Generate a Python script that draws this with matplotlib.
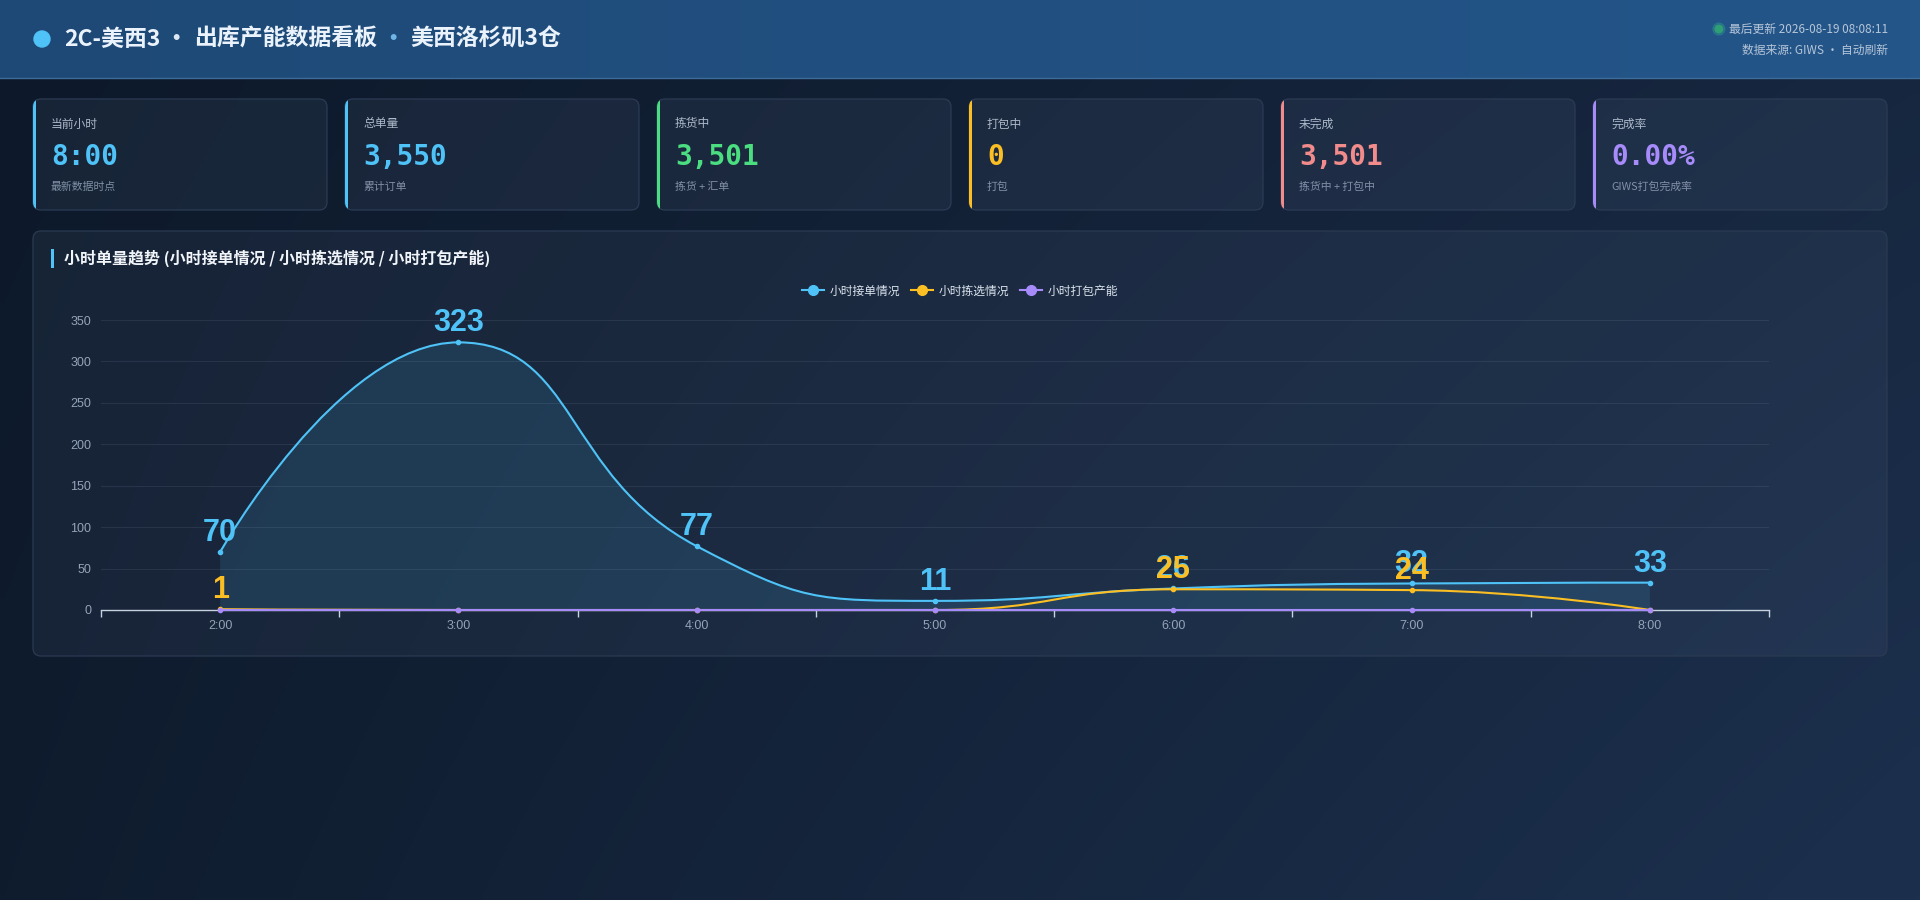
import numpy as np
import matplotlib.pyplot as plt
from matplotlib.patches import FancyBboxPatch, Rectangle, Circle, PathPatch
from matplotlib.path import Path
from matplotlib.lines import Line2D

plt.rcParams['font.family'] = ['Noto Sans CJK SC', 'DejaVu Sans']

# ---- data ----
hours = ['2:00', '3:00', '4:00', '5:00', '6:00', '7:00', '8:00']
orders = [70, 323, 77, 11, 26, 32, 33]     # 小时接单情况
picked = [1, 0, 0, 0, 25, 24, 0]           # 小时拣选情况
packed = [0, 0, 0, 0, 0, 0, 0]             # 小时打包产能
series_names = ['小时接单情况', '小时拣选情况', '小时打包产能']

kpi_titles = ['当前小时', '总单量', '拣货中', '打包中', '未完成', '完成率']
kpi_values = ['8:00', '3,550', '3,501', '0', '3,501', '0.00%']
kpi_notes = ['最新数据时点', '累计订单', '拣货 + 汇单', '打包', '拣货中 + 打包中', 'GIWS打包完成率']

BLUE, YELLOW, PURPLE = '#4fc3f7', '#fbbf24', '#a78bfa'
kpi_colors = [BLUE, BLUE, '#4ade80', YELLOW, '#f28b8b', PURPLE]
series_colors = [BLUE, YELLOW, PURPLE]


def smooth_path(xs, ys, sx, sy, smooth=0.5):
    # echarts-like smoothing, computed in pixel space then mapped back
    pts = np.column_stack([np.asarray(xs, float) * sx, np.asarray(ys, float) * sy])
    n = len(pts)
    cin = pts.copy()
    cout = pts.copy()
    for i in range(1, n - 1):
        p, prev, nxt = pts[i], pts[i - 1], pts[i + 1]
        v = nxt - prev
        lp = np.hypot(*(p - prev))
        ln = np.hypot(*(nxt - p))
        ratio = ln / (ln + lp)
        c1 = p + v * smooth * ratio
        c1 = np.clip(c1, np.minimum(p, nxt), np.maximum(p, nxt))
        c0 = p - (c1 - p) * lp / ln
        c0 = np.clip(c0, np.minimum(prev, p), np.maximum(prev, p))
        c1 = p + (p - c0) * ln / lp
        cin[i] = c0
        cout[i] = c1
    verts = [pts[0]]
    codes = [Path.MOVETO]
    for i in range(n - 1):
        verts += [cout[i], cin[i + 1], pts[i + 1]]
        codes += [Path.CURVE4] * 3
    verts = np.array(verts) / [sx, sy]
    return verts, codes


fig = plt.figure(figsize=(19.2, 9), dpi=100)
bg = fig.add_axes([0, 0, 1, 1])
bg.set_xlim(0, 1920)
bg.set_ylim(900, 0)
bg.axis('off')

# body gradient
gy, gx = np.mgrid[0:1:90j, 0:1:192j]
c_tl = np.array([13, 25, 42]) / 255
c_tr = np.array([22, 38, 62]) / 255
c_bl = np.array([15, 28, 46]) / 255
c_br = np.array([28, 48, 78]) / 255
grad = (c_tl * ((1 - gx) * (1 - gy))[..., None] + c_tr * (gx * (1 - gy))[..., None]
        + c_bl * ((1 - gx) * gy)[..., None] + c_br * (gx * gy)[..., None])
bg.imshow(grad, extent=(0, 1920, 900, 0), aspect='auto', zorder=0, interpolation='bilinear')

# header
hg = np.linspace(0, 1, 192)[None, :, None]
h_l = np.array([30, 73, 118]) / 255
h_r = np.array([36, 86, 138]) / 255
bg.imshow(h_l * (1 - hg) + h_r * hg, extent=(0, 1920, 78, 0), aspect='auto', zorder=1)
bg.plot([0, 1920], [78, 78], color='#3d6c9a', lw=1, zorder=2)
bg.set_xlim(0, 1920)
bg.set_ylim(900, 0)

bg.add_patch(Circle((42, 39), 8, color=BLUE, zorder=3))
renderer = fig.canvas.get_renderer()
title_parts = [('2C-美西3', '#eaf2fb'), (' · ', '#dbe7f3'), ('出库产能数据看板', '#eaf2fb'),
               (' · ', '#6fb6e6'), ('美西洛杉矶3仓', '#eaf2fb')]
tx = 64
for s, c in title_parts:
    t = bg.text(tx, 39, s, fontsize=16.5, weight='bold', color=c, va='center', ha='left', zorder=3)
    tx += t.get_window_extent(renderer).width

t1 = bg.text(1888, 29, '最后更新 2026-08-19 08:08:11', fontsize=8.5, color='#b6c6d8',
             ha='right', va='center', zorder=3)
bg.text(1888, 50, '数据来源: GIWS · 自动刷新', fontsize=8.5, color='#b6c6d8',
        ha='right', va='center', zorder=3)
left_edge = t1.get_window_extent(renderer).x0
bg.add_patch(Circle((left_edge - 10, 29), 6, color='#34d399', alpha=0.18, zorder=3))
bg.add_patch(Circle((left_edge - 10, 29), 3.8, color='#2f9e74', zorder=3))

# KPI cards
for i in range(6):
    x = 33 + i * 312
    card = FancyBboxPatch((x, 99), 294, 111, boxstyle='round,pad=0,rounding_size=8',
                          fc=(0.58, 0.66, 0.80, 0.08), ec='#2b3b53', lw=0.9, zorder=3)
    bg.add_patch(card)
    acc = Rectangle((x - 1, 99), 4, 111, fc=kpi_colors[i], ec='none', zorder=4)
    bg.add_patch(acc)
    acc.set_clip_path(card)
    bg.text(x + 18, 124, kpi_titles[i], fontsize=8.5, color='#aebacb', va='center', zorder=5)
    bg.text(x + 18, 157, kpi_values[i], fontsize=20, weight='bold', family='DejaVu Sans Mono',
            color=kpi_colors[i], va='center', zorder=5)
    bg.text(x + 18, 187, kpi_notes[i], fontsize=7.8, color='#8391a7', va='center', zorder=5)

# chart panel
panel = FancyBboxPatch((33, 231), 1854, 425, boxstyle='round,pad=0,rounding_size=8',
                       fc=(0.58, 0.66, 0.80, 0.07), ec='#2a3a51', lw=0.9, zorder=3)
bg.add_patch(panel)
bg.add_patch(Rectangle((51, 249), 3, 19, fc=BLUE, ec='none', zorder=4))
bg.text(64, 258, '小时单量趋势 (小时接单情况 / 小时拣选情况 / 小时打包产能)', fontsize=11.5,
        weight='bold', color='#f1f5f9', va='center', zorder=5)

# chart axes
ax = fig.add_axes([101 / 1920, 1 - 610 / 900, (1769 - 101) / 1920, 290 / 900])
ax.set_facecolor('none')
ax.set_xlim(-0.5, 6.5)
ax.set_ylim(0, 350)
for side in ['top', 'right', 'left']:
    ax.spines[side].set_visible(False)
ax.spines['bottom'].set_color('#c8d2de')
ax.spines['bottom'].set_linewidth(1)

ax.set_yticks(range(0, 351, 50))
ax.yaxis.grid(True, color='#94a3b8', alpha=0.13, lw=0.8)
ax.set_axisbelow(True)
ax.tick_params(axis='y', length=0, pad=7, labelsize=9, labelcolor='#94a3b8')
ax.set_xticks(range(len(hours)))
ax.set_xticklabels(hours)
ax.set_xticks(np.arange(-0.5, len(hours), 1), minor=True)
ax.tick_params(axis='x', which='major', length=0, pad=7, labelsize=9, labelcolor='#94a3b8')
ax.tick_params(axis='x', which='minor', length=5, width=1, color='#c8d2de', direction='out')
for lab in ax.get_xticklabels() + ax.get_yticklabels():
    lab.set_family('Liberation Sans')

sx = 1668 / 7.0
sy = 290 / 350.0
xs = np.arange(len(hours))
all_series = [orders, picked, packed]

# area under 小时接单情况
v, c = smooth_path(xs, orders, sx, sy)
fill_verts = np.vstack([v, [[xs[-1], 0], [xs[0], 0], [xs[0], 0]]])
fill_codes = c + [Path.LINETO, Path.LINETO, Path.CLOSEPOLY]
ax.add_patch(PathPatch(Path(fill_verts, fill_codes), fc=BLUE, alpha=0.13, ec='none', zorder=1))

for k, (vals, col) in enumerate(zip(all_series, series_colors)):
    v, c = smooth_path(xs, vals, sx, sy)
    ax.add_patch(PathPatch(Path(v, c), fill=False, ec=col, lw=1.5, zorder=2 + k, clip_on=False))
    ax.plot(xs, vals, 'o', ms=3, color=col, zorder=2.5 + k, clip_on=False)

for k, (vals, col) in enumerate(zip(all_series, series_colors)):
    for i, val in enumerate(vals):
        if val > 0:
            ax.annotate(str(val), (xs[i], val), xytext=(0, 8), textcoords='offset points',
                        ha='center', va='baseline', fontsize=22, weight='bold', color=col,
                        family='Liberation Sans', zorder=6 + k, annotation_clip=False)

handles = [Line2D([0], [0], color=col, lw=1.5, marker='o', ms=7) for col in series_colors]
fig.legend(handles, series_names, loc='center', bbox_to_anchor=(0.5, 1 - 291 / 900), ncol=3,
           frameon=False, fontsize=8.5, labelcolor='#dbe4ee', handlelength=1.9,
           handletextpad=0.45, columnspacing=0.9)

fig.savefig('out.png', dpi=100)
